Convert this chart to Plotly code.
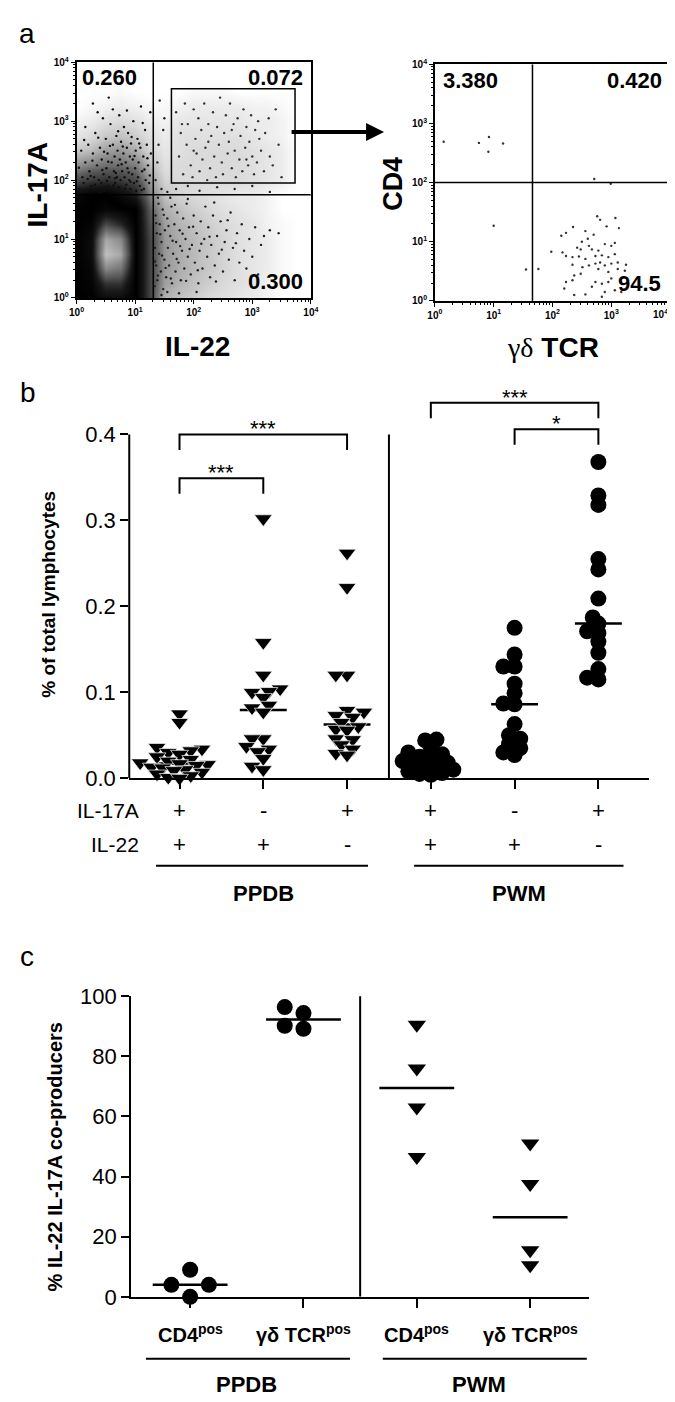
import numpy as np
import plotly.graph_objects as go

W, H = 675, 1402
FONT = "Liberation Sans, Arial, Helvetica, sans-serif"

# ======================= DATA =======================
# ---- Panel a, left plot: events as (log10 IL-22, log10 IL-17A)
ul_events = [(0.05,1.85),(0.10,2.05),(0.12,1.95),(0.15,2.30),(0.18,1.80),(0.20,2.60),(0.22,2.15),(0.25,1.90),
             (0.28,2.45),(0.30,2.05),(0.32,2.80),(0.33,1.85),(0.35,2.25),(0.38,2.00),(0.40,2.55),(0.42,1.95),
             (0.43,2.35),(0.45,3.05),(0.46,2.10),(0.48,1.82),(0.50,2.70),(0.51,2.20),(0.53,2.45),(0.55,1.90),
             (0.56,2.05),(0.58,2.95),(0.60,2.30),(0.61,1.85),(0.62,2.60),(0.64,2.15),(0.65,2.40),(0.66,1.95),
             (0.68,2.75),(0.69,2.05),(0.70,2.50),(0.71,2.25),(0.72,1.88),(0.73,3.10),(0.74,2.35),(0.75,2.00),
             (0.76,2.65),(0.78,2.15),(0.79,1.80),(0.80,2.45),(0.81,2.90),(0.82,2.05),(0.84,2.30),(0.85,1.92),
             (0.86,2.55),(0.87,2.20),(0.88,2.80),(0.90,2.00),(0.91,2.40),(0.92,1.85),(0.93,2.62),(0.95,2.10),
             (0.96,2.35),(0.97,3.00),(0.98,1.95),(1.00,2.20),(1.01,2.50),(1.02,1.82),(1.04,2.70),(1.05,2.05),
             (1.06,2.30),(1.08,1.90),(1.09,2.55),(1.10,3.25),(1.12,2.15),(1.14,2.40),(1.15,1.85),(1.17,2.85),
             (1.18,2.00),(1.20,2.60),(1.22,2.25),(1.24,1.95),(1.26,3.15),(1.27,2.45),(0.28,3.30),(0.62,3.20),
             (0.08,2.50),(0.15,2.90),(0.36,3.15),(0.55,3.40),
             (0.04,2.21),(0.13,2.68),(0.24,2.07),(0.27,2.33),(0.37,2.72),(0.41,1.79),(0.47,2.48),(0.52,1.99),
             (0.57,2.58),(0.63,1.91),(0.67,2.12),(0.71,2.83),(0.77,2.27),(0.83,1.86),(0.89,2.13),(0.94,2.73),
             (0.99,2.41),(1.03,1.98),(1.07,2.62),(1.11,1.83),(1.16,2.18),(1.21,2.37),(1.25,2.08),(0.19,2.02),
             (0.31,1.92),(0.44,2.17),(0.54,2.31),(0.66,2.03),(0.79,2.57),(0.92,1.97),(1.13,2.97),(0.86,3.18)]
ur_events = [(1.35,2.00),(1.40,2.60),(1.45,1.85),(1.50,3.05),(1.38,2.30),(1.55,1.80),(1.70,1.85),(1.90,1.90),
             (2.10,1.82),(2.40,1.88),(2.70,1.85),(3.00,1.90),(3.30,1.80),(1.48,2.85),(1.42,3.35)]
gate_events = [(1.70,3.15),(1.75,2.40),(1.78,2.80),(1.82,2.10),(1.85,3.30),(1.88,2.60),(1.90,2.95),(1.95,2.25),
               (1.98,2.05),(2.00,3.20),(2.03,2.70),(2.05,2.45),(2.08,3.05),(2.10,2.15),(2.13,2.85),(2.15,2.35),
               (2.18,3.30),(2.20,2.55),(2.23,2.00),(2.25,2.95),(2.28,2.20),(2.30,2.75),(2.33,3.15),(2.35,2.40),
               (2.38,2.05),(2.40,2.90),(2.43,2.60),(2.45,3.40),(2.48,2.30),(2.50,2.10),(2.52,2.80),(2.55,3.10),
               (2.58,2.45),(2.60,2.65),(2.62,3.30),(2.65,2.20),(2.68,2.95),(2.70,2.50),(2.72,2.05),(2.75,3.05),
               (2.78,2.35),(2.80,2.75),(2.83,2.15),(2.85,3.20),(2.88,2.55),(2.90,2.90),(2.93,2.25),(2.95,2.65),
               (2.98,3.10),(3.00,2.40),(3.03,2.10),(3.05,2.85),(3.08,2.30),(3.10,3.00),(3.15,2.50),(3.20,2.15),
               (3.22,2.80),(3.28,3.05),(3.30,2.40),(3.35,2.25),(3.40,3.20),(3.45,2.60),(3.50,2.05),(2.00,2.50),
               (1.80,2.95),(2.25,2.65),(2.65,2.85),(2.90,2.35),(3.12,2.70)]
lr_events = [(1.33,0.20),(1.34,0.85),(1.35,1.40),(1.36,0.55),(1.37,1.10),(1.38,0.30),(1.40,1.60),(1.41,0.75),
             (1.42,1.25),(1.44,0.45),(1.45,0.95),(1.47,1.50),(1.48,0.15),(1.50,0.65),(1.51,1.15),(1.53,0.35),
             (1.55,1.35),(1.56,0.85),(1.58,0.55),(1.60,1.05),(1.62,1.55),(1.63,0.25),(1.65,0.75),(1.67,1.25),
             (1.69,0.45),(1.70,0.95),(1.72,1.45),(1.74,0.60),(1.76,1.15),(1.78,0.30),(1.80,0.80),(1.82,1.35),
             (1.84,0.50),(1.86,1.00),(1.88,1.60),(1.90,0.70),(1.92,1.20),(1.95,0.40),(1.97,0.90),(2.00,1.40),
             (2.02,0.60),(2.05,1.10),(2.08,0.25),(2.10,0.80),(2.12,1.30),(2.15,0.50),(2.18,1.00),(2.20,1.55),
             (2.23,0.70),(2.25,1.20),(2.28,0.35),(2.30,0.90),(2.33,1.40),(2.36,0.55),(2.40,1.05),(2.43,0.75),
             (2.46,1.30),(2.50,0.45),(2.53,0.95),(2.56,1.15),(2.60,0.65),(2.63,1.45),(2.67,0.85),(2.70,0.30),
             (2.74,1.10),(2.78,0.60),(2.82,1.25),(2.86,0.80),(2.90,0.50),(2.95,1.00),(3.00,0.70),(3.05,1.20),
             (3.10,0.40),(3.15,0.90),(3.20,1.05),(3.30,1.15),(3.45,1.10),(1.45,0.05),(1.75,0.08),(2.05,0.10),
             (1.60,1.70),(1.90,1.68),(2.35,1.62),(1.39,1.70),(1.55,0.10),
             (1.34,0.62),(1.36,1.27),(1.39,0.38),(1.43,1.08),(1.46,0.72),(1.49,1.41),(1.52,0.51),(1.57,1.22),
             (1.61,0.33),(1.64,0.97),(1.68,1.58),(1.71,0.66),(1.77,0.88),(1.81,1.09),(1.87,0.29),(1.93,0.83),
             (1.99,1.21),(2.07,0.47),(2.13,0.92),(2.27,1.04),(2.38,0.28),(2.48,0.82),(2.58,1.32),(2.72,0.93)]
# background density of the dot cloud (grey level estimated on a 0.25-decade grid, rows = IL-17A)
grid_il22 = [0.0, 0.25, 0.5, 0.75, 1.0, 1.25, 1.5, 1.75, 2.0, 2.25, 2.5, 2.75, 3.0, 3.25, 3.5, 3.75, 4.0]
grid_il17 = [0.0, 0.25, 0.5, 0.75, 1.0, 1.25, 1.5, 1.75, 2.0, 2.25, 2.5, 2.75, 3.0, 3.25, 3.5, 3.75, 4.0]
grid_density = [
    [5.0, 5.0, 5.5, 5.5, 5.0, 3.0, 1.2, 1.0, 0.8, 0.6, 0.5, 0.4, 0.3, 0.2, 0.0, 0.0, 0.0],
    [5.0, 5.2, 6.5, 6.5, 5.0, 3.0, 1.5, 1.2, 1.0, 0.8, 0.6, 0.5, 0.4, 0.2, 0.1, 0.0, 0.0],
    [5.0, 5.3, 8.5, 8.0, 5.0, 3.0, 1.6, 1.3, 1.1, 0.9, 0.7, 0.5, 0.4, 0.3, 0.1, 0.0, 0.0],
    [5.0, 5.5, 9.8, 9.2, 5.0, 3.0, 1.6, 1.3, 1.1, 0.9, 0.7, 0.5, 0.4, 0.3, 0.1, 0.0, 0.0],
    [5.0, 5.5, 9.2, 8.5, 5.0, 3.0, 1.6, 1.3, 1.1, 0.9, 0.7, 0.5, 0.4, 0.3, 0.1, 0.0, 0.0],
    [5.0, 5.2, 7.0, 6.3, 5.0, 2.8, 1.5, 1.2, 1.0, 0.8, 0.6, 0.5, 0.4, 0.2, 0.1, 0.0, 0.0],
    [5.0, 5.0, 5.3, 5.1, 5.0, 2.5, 1.3, 1.0, 0.8, 0.6, 0.5, 0.4, 0.3, 0.2, 0.0, 0.0, 0.0],
    [4.6, 5.0, 5.0, 4.6, 3.9, 2.0, 1.0, 0.7, 0.6, 0.5, 0.4, 0.3, 0.3, 0.2, 0.0, 0.0, 0.0],
    [2.8, 3.2, 3.4, 3.2, 2.8, 1.6, 0.7, 0.6, 0.6, 0.6, 0.6, 0.6, 0.5, 0.4, 0.3, 0.0, 0.0],
    [1.7, 2.0, 2.2, 2.2, 2.0, 1.1, 0.5, 0.6, 0.6, 0.6, 0.6, 0.6, 0.5, 0.4, 0.3, 0.0, 0.0],
    [0.9, 1.1, 1.5, 1.6, 1.3, 0.7, 0.4, 0.5, 0.6, 0.6, 0.6, 0.6, 0.5, 0.4, 0.3, 0.0, 0.0],
    [0.4, 0.6, 0.9, 1.0, 0.8, 0.5, 0.3, 0.5, 0.5, 0.5, 0.5, 0.5, 0.4, 0.3, 0.2, 0.0, 0.0],
    [0.2, 0.3, 0.5, 0.6, 0.5, 0.3, 0.2, 0.4, 0.4, 0.4, 0.4, 0.4, 0.3, 0.3, 0.2, 0.0, 0.0],
    [0.0, 0.1, 0.2, 0.3, 0.2, 0.1, 0.1, 0.2, 0.3, 0.3, 0.3, 0.3, 0.2, 0.2, 0.1, 0.0, 0.0],
    [0.0, 0.0, 0.0, 0.1, 0.0, 0.0, 0.0, 0.0, 0.1, 0.1, 0.1, 0.0, 0.0, 0.0, 0.0, 0.0, 0.0],
    [0.0] * 17,
    [0.0] * 17,
]
left_quadrant_gate = (1.31, 1.75)            # IL-22, IL-17A thresholds (log10)
left_box_gate = (1.62, 3.73, 1.95, 3.55)     # x0, x1, y0, y1 (log10)
left_quadrant_pct = ["0.260", "0.072", "0.300"]

# ---- Panel a, right plot: (log10 gd TCR, log10 CD4)
gd_events = [(2.15,1.10),(2.35,1.25),(2.23,1.15),(2.56,1.18),(2.76,1.43),(2.81,1.37),(2.92,1.26),(3.07,1.40),
             (3.13,1.23),(2.42,0.90),(2.48,0.87),(2.62,0.93),(2.67,0.87),(2.78,0.85),(2.89,0.96),(3.00,0.93),
             (3.06,0.98),(2.17,0.82),(1.98,0.83),(2.23,0.76),(2.34,0.74),(2.45,0.75),(2.56,0.71),(2.73,0.76),
             (2.84,0.77),(2.95,0.74),(3.06,0.79),(2.62,0.60),(2.73,0.63),(2.81,0.65),(2.89,0.60),(3.00,0.63),
             (3.11,0.65),(3.25,0.61),(2.34,0.61),(2.51,0.57),(2.37,0.43),(2.48,0.46),(2.78,0.54),(2.95,0.49),
             (3.11,0.54),(3.23,0.51),(1.76,0.54),(2.23,0.32),(2.34,0.35),(2.73,0.32),(2.84,0.29),(2.95,0.32),
             (2.20,0.21),(2.67,0.24),(2.89,0.15),(3.06,0.18),(3.00,0.38),(3.17,0.15),(2.37,0.10),(2.56,0.11),
             (2.84,0.07),(2.60,1.05),(2.70,1.12),(2.50,1.00),
             (0.15,2.69),(0.75,2.67),(0.92,2.77),(0.91,2.52),(1.16,2.66),(1.00,1.27),(1.55,0.53),
             (2.71,2.06),(2.99,1.98)]
right_quadrant_gate = (1.66, 2.0)
right_quadrant_pct = ["3.380", "0.420", "94.5"]

# ---- Panel b: % of total lymphocytes
b_groups = ["PPDB IL-17A+IL-22+", "PPDB IL-17A-IL-22+", "PPDB IL-17A+IL-22-",
            "PWM IL-17A+IL-22+", "PWM IL-17A-IL-22+", "PWM IL-17A+IL-22-"]
il17a_signs = ["+", "-", "+", "+", "-", "+"]
il22_signs = ["+", "+", "-", "+", "+", "-"]
ppdb_dp = [0.075, 0.065, 0.036, 0.034, 0.032, 0.030, 0.028, 0.025, 0.022, 0.020, 0.018, 0.017,
           0.016, 0.015, 0.013, 0.012, 0.010, 0.009, 0.007, 0.005, 0.003, 0.001, 0.000]
ppdb_sp = [0.302, 0.158, 0.120, 0.104, 0.101, 0.100, 0.094, 0.085, 0.082, 0.077, 0.046, 0.046,
           0.037, 0.034, 0.031, 0.023, 0.014, 0.010]
ppdb_ms = [0.262, 0.222, 0.120, 0.120, 0.079, 0.077, 0.073, 0.071, 0.065, 0.060, 0.057, 0.056,
           0.046, 0.045, 0.039, 0.034, 0.029, 0.027]
pwm_dp = [0.045, 0.044, 0.035, 0.030, 0.028, 0.025, 0.022, 0.020, 0.018, 0.016, 0.014, 0.012,
          0.010, 0.008, 0.006, 0.005, 0.004]
pwm_sp = [0.175, 0.144, 0.130, 0.130, 0.110, 0.099, 0.087, 0.086, 0.063, 0.050, 0.046, 0.040,
          0.035, 0.030, 0.027]
pwm_ms = [0.368, 0.329, 0.318, 0.255, 0.243, 0.209, 0.187, 0.180, 0.171, 0.169, 0.159, 0.146,
          0.127, 0.117, 0.115]
b_values = [ppdb_dp, ppdb_sp, ppdb_ms, pwm_dp, pwm_sp, pwm_ms]
b_symbols = ["triangle-down"] * 3 + ["circle"] * 3
b_ticks = [0.0, 0.1, 0.2, 0.3, 0.4]
# significance brackets: (from group, to group, level, label)
b_sig = [(0, 2, 0.400, "***"), (0, 1, 0.349, "***"), (3, 5, 0.437, "***"), (4, 5, 0.406, "*")]

# ---- Panel c: % IL-22 IL-17A co-producers
c_labels = ["CD4<sup>pos</sup>", "γδ TCR<sup>pos</sup>", "CD4<sup>pos</sup>", "γδ TCR<sup>pos</sup>"]
c_ppdb_cd4 = [9.0, 4.0, 4.0, 0.0]
c_ppdb_gd = [96.4, 94.4, 90.2, 89.2]
c_pwm_cd4 = [90.5, 76.0, 63.0, 46.5]
c_pwm_gd = [51.0, 37.5, 15.5, 10.5]
c_values = [c_ppdb_cd4, c_ppdb_gd, c_pwm_cd4, c_pwm_gd]
c_symbols = ["circle", "circle", "triangle-down", "triangle-down"]
c_ticks = [0, 20, 40, 60, 80, 100]
stimuli = ["PPDB", "PWM"]

# ======================= LAYOUT GEOMETRY =======================
def px(x):
    return x / W

def py(y):
    return 1 - y / H

DOM = {
    "flowL": ((62, 302), (43, 283)),
    "flowR": ((429, 670), (45, 286)),
    "b": ((116, 648), (369.5, 772)),
    "c": ((118, 587), (994, 1300)),
}
B_XR = [-0.6, 5.6]
B_YR = [0.0, 0.46]
C_XR = [-0.52, 3.52]
C_YR = [0.0, 100.0]


def dom(key):
    (x0, x1), (y0, y1) = DOM[key]
    return [px(x0), px(x1)], [py(y1), py(y0)]


def swarm(vals, xs, ys, step, thresh):
    vals = np.asarray(vals, float)
    order = np.argsort(vals, kind="stable")
    cands = [0]
    for j in range(1, 40):
        cands += [-j, j]
    placed, offs = [], np.zeros(len(vals))
    for i in order:
        yp = vals[i] * ys
        xp = 0.0
        for c in cands:
            xp = c * step
            if all((xp - a) ** 2 + (yp - b) ** 2 >= thresh ** 2 for a, b in placed):
                break
        placed.append((xp, yp))
        offs[i] = xp / xs
    return offs


fig = go.Figure()

# ---------- panel a left ----------
fig.add_trace(go.Heatmap(x=grid_il22, y=grid_il17, z=grid_density, zsmooth="best", zmin=0, zmax=10,
                         showscale=False, hoverinfo="skip", xaxis="x", yaxis="y",
                         colorscale=[[0, "#ffffff"], [0.04, "#e6e6e6"], [0.1, "#c2c2c2"], [0.25, "#5a5a5a"],
                                     [0.4, "#161616"], [0.5, "#000000"], [0.6, "#1a1a1a"], [0.72, "#555555"],
                                     [0.86, "#8e8e8e"], [1.0, "#cacaca"]]))
for pts, col in [(ul_events, "#111"), (ur_events, "#222"), (gate_events, "#333"), (lr_events, "#222")]:
    xs_, ys_ = zip(*pts)
    fig.add_trace(go.Scatter(x=xs_, y=ys_, mode="markers", xaxis="x", yaxis="y", hoverinfo="skip",
                             marker=dict(size=2.4, color=col, line=dict(width=0))))
# ---------- panel a right ----------
xs_, ys_ = zip(*gd_events)
fig.add_trace(go.Scatter(x=xs_, y=ys_, mode="markers", xaxis="x2", yaxis="y2", hoverinfo="skip",
                         marker=dict(size=2.4, color="#333", line=dict(width=0))))

# ---------- panel b ----------
bx_s = (DOM["b"][0][1] - DOM["b"][0][0]) / (B_XR[1] - B_XR[0])
by_s = (DOM["b"][1][1] - DOM["b"][1][0]) / (B_YR[1] - B_YR[0])
for i, (vals, sym) in enumerate(zip(b_values, b_symbols)):
    med = float(np.median(vals))
    fig.add_trace(go.Scatter(x=[i - 0.28, i + 0.28], y=[med, med], mode="lines", xaxis="x3", yaxis="y3",
                             line=dict(color="black", width=2.5), hoverinfo="skip"))
    d = 16.0
    offs = swarm(vals, bx_s, by_s, step=0.36 * d, thresh=0.5 * d)
    fig.add_trace(go.Scatter(x=i + offs, y=vals, mode="markers", xaxis="x3", yaxis="y3", cliponaxis=False,
                             hoverinfo="skip",
                             marker=dict(symbol=sym, size=15.5 if sym != "circle" else 16, color="black",
                                         line=dict(color="white", width=0.7 if sym != "circle" else 0))))

# ---------- panel c ----------
cx_s = (DOM["c"][0][1] - DOM["c"][0][0]) / (C_XR[1] - C_XR[0])
cy_s = (DOM["c"][1][1] - DOM["c"][1][0]) / (C_YR[1] - C_YR[0])
for i, (vals, sym) in enumerate(zip(c_values, c_symbols)):
    med = float(np.median(vals))
    fig.add_trace(go.Scatter(x=[i - 0.33, i + 0.33], y=[med, med], mode="lines", xaxis="x4", yaxis="y4",
                             line=dict(color="black", width=2.5), hoverinfo="skip"))
    d = 16.0
    offs = swarm(vals, cx_s, cy_s, step=1.2 * d, thresh=0.95 * d)
    fig.add_trace(go.Scatter(x=i + offs, y=vals, mode="markers", xaxis="x4", yaxis="y4", cliponaxis=False,
                             hoverinfo="skip",
                             marker=dict(symbol=sym, size=16 if sym != "circle" else 16, color="black",
                                         line=dict(width=0))))

# ---------- axes ----------
decades = [0, 1, 2, 3, 4]
dec_text = ["<b>10<sup>%d</sup></b>" % k for k in decades]
minor_vals = [float(np.log10(m)) + k for k in range(4) for m in range(2, 10)]


def flow_ax(ticktext):
    return dict(range=[0, 4], showline=True, mirror=True, linecolor="black", linewidth=1.5,
                ticks="outside", ticklen=4, tickwidth=1.2, tickcolor="black",
                tickmode="array", tickvals=decades, ticktext=ticktext,
                tickfont=dict(size=10, family=FONT, color="black"),
                minor=dict(tickmode="array", tickvals=minor_vals, ticks="outside", ticklen=2,
                           tickwidth=0.8, tickcolor="black", showgrid=False),
                showgrid=False, zeroline=False, fixedrange=True)


xd, yd = dom("flowL")
fig.update_layout(xaxis=dict(domain=xd, anchor="y", **flow_ax(dec_text)),
                  yaxis=dict(domain=yd, anchor="x", **flow_ax(dec_text)))
xd, yd = dom("flowR")
fig.update_layout(xaxis2=dict(domain=xd, anchor="y2", **flow_ax(dec_text[:-1] + [""])),
                  yaxis2=dict(domain=yd, anchor="x2", **flow_ax(dec_text)))

xd, yd = dom("b")
fig.update_layout(
    xaxis3=dict(domain=xd, anchor="y3", range=B_XR, showline=True, linecolor="black", linewidth=2,
                ticks="outside", ticklen=9, tickwidth=2, tickcolor="black", tickvals=list(range(6)),
                showticklabels=False, showgrid=False, zeroline=False),
    yaxis3=dict(domain=yd, anchor="x3", range=B_YR, showline=False, ticks="outside", ticklen=8, tickwidth=2,
                tickcolor="black", tickvals=b_ticks, tickformat=".1f",
                tickfont=dict(size=22, family=FONT, color="black"), showgrid=False, zeroline=False),
)
xd, yd = dom("c")
fig.update_layout(
    xaxis4=dict(domain=xd, anchor="y4", range=C_XR, showline=True, linecolor="black", linewidth=2,
                ticks="outside", ticklen=9, tickwidth=2, tickcolor="black", tickvals=list(range(4)),
                showticklabels=False, showgrid=False, zeroline=False),
    yaxis4=dict(domain=yd, anchor="x4", range=C_YR, showline=True, linecolor="black", linewidth=2,
                ticks="outside", ticklen=8, tickwidth=2, tickcolor="black", tickvals=c_ticks,
                tickfont=dict(size=22, family=FONT, color="black"), showgrid=False, zeroline=False),
)

# ---------- shapes ----------
shapes = []
L = dict(color="black", width=1.5)
qx, qy = left_quadrant_gate
shapes += [dict(type="line", xref="x", yref="y", x0=qx, x1=qx, y0=0, y1=4, line=L),
           dict(type="line", xref="x", yref="y", x0=0, x1=4, y0=qy, y1=qy, line=L)]
bx0, bx1, by0, by1 = left_box_gate
shapes.append(dict(type="rect", xref="x", yref="y", x0=bx0, x1=bx1, y0=by0, y1=by1, line=L))
qx, qy = right_quadrant_gate
shapes += [dict(type="line", xref="x2", yref="y2", x0=qx, x1=qx, y0=0, y1=4, line=L),
           dict(type="line", xref="x2", yref="y2", x0=0, x1=4, y0=qy, y1=qy, line=L)]
# panel b y axis line and divider
shapes.append(dict(type="line", xref="x3 domain", yref="y3", x0=0, x1=0, y0=0, y1=b_ticks[-1],
                   line=dict(color="black", width=2)))
shapes.append(dict(type="line", xref="x3", yref="y3", x0=2.5, x1=2.5, y0=0, y1=b_ticks[-1],
                   line=dict(color="black", width=2)))
for g0, g1, lvl, lab in b_sig:
    leg = 0.018
    shapes.append(dict(type="path", xref="x3", yref="y3",
                       path=f"M{g0},{lvl - leg} L{g0},{lvl} L{g1},{lvl} L{g1},{lvl - leg}",
                       line=dict(color="black", width=2)))
# panel c divider
shapes.append(dict(type="line", xref="x4", yref="y4", x0=1.5, x1=1.5, y0=0, y1=101,
                   line=dict(color="black", width=2)))
# group underlines
shapes += [dict(type="line", xref="x3", yref="paper", x0=-0.28, x1=2.25, y0=py(861), y1=py(861),
                line=dict(color="black", width=2)),
           dict(type="line", xref="x3", yref="paper", x0=2.8, x1=5.3, y0=py(861), y1=py(861),
                line=dict(color="black", width=2)),
           dict(type="line", xref="x4", yref="paper", x0=-0.39, x1=1.41, y0=py(1363), y1=py(1363),
                line=dict(color="black", width=2)),
           dict(type="line", xref="x4", yref="paper", x0=1.7, x1=3.5, y0=py(1363), y1=py(1363),
                line=dict(color="black", width=2))]

# ---------- annotations ----------
ann = []


def txt(text, x, y, size, xref="paper", yref="paper", xanchor="center", yanchor="middle", angle=0, bold=False):
    ann.append(dict(text=("<b>%s</b>" % text) if bold else text, x=x, y=y, xref=xref, yref=yref,
                    xanchor=xanchor, yanchor=yanchor, textangle=angle, showarrow=False,
                    font=dict(family=FONT, size=size, color="black")))


txt("a", px(11), py(14), 28)
txt("b", px(12), py(379), 28)
txt("c", px(11), py(953), 28)
# flow quadrant values
txt(left_quadrant_pct[0], px(66), py(59), 22, xanchor="left", bold=True)
txt(left_quadrant_pct[1], px(296), py(59), 22, xanchor="right", bold=True)
txt(left_quadrant_pct[2], px(296), py(266), 22, xanchor="right", bold=True)
txt(right_quadrant_pct[0], px(435), py(62), 22, xanchor="left", bold=True)
txt(right_quadrant_pct[1], px(664), py(62), 22, xanchor="right", bold=True)
txt(right_quadrant_pct[2], px(663), py(268), 22, xanchor="right", bold=True)
# last decade label of the right plot, pulled inside the page
txt(dec_text[-1], 4, py(291), 10, xref="x2", xanchor="right", yanchor="top")
# flow axis titles
txt("IL-17A", px(22), py(167), 28, angle=-90, bold=True)
txt("IL-22", px(186), py(332), 28, bold=True)
txt("CD4", px(386), py(167), 27, angle=-90, bold=True)
txt("<span style='font-family:Liberation Serif;font-weight:normal'>γδ</span> TCR", px(550), py(333), 28,
    bold=True)
# arrow between the flow plots
ann.append(dict(x=px(377), y=py(114), xref="paper", yref="paper", ax=-94, ay=0, text="", showarrow=True,
                arrowhead=2, arrowsize=0.9, arrowwidth=4, arrowcolor="black"))
# panel b texts
txt("% of total lymphocytes", px(33), py(585), 19, angle=-90, bold=True)
txt("IL-17A", px(128), py(805), 21, xanchor="right")
txt("IL-22", px(128), py(839), 21, xanchor="right")
for i, (s1, s2) in enumerate(zip(il17a_signs, il22_signs)):
    txt(s1, i, py(805), 22, xref="x3")
    txt(s2, i, py(839), 22, xref="x3")
txt(stimuli[0], 1.0, py(889), 22, xref="x3", bold=True)
txt(stimuli[1], 4.05, py(889), 22, xref="x3", bold=True)
for g0, g1, lvl, lab in b_sig:
    txt(lab, (g0 + g1) / 2, lvl, 22, xref="x3", yref="y3", yanchor="bottom")
    ann[-1]["yshift"] = -9
# panel c texts
txt("% IL-22 IL-17A co-producers", px(40), py(1158), 20, angle=-90, bold=True)
for i, lab in enumerate(c_labels):
    txt(lab, i, py(1337), 20, xref="x4", bold=True)
txt(stimuli[0], 0.5, py(1389), 22, xref="x4", bold=True)
txt(stimuli[1], 2.55, py(1389), 22, xref="x4", bold=True)

fig.update_layout(width=W, height=H, margin=dict(l=0, r=0, t=0, b=0), autosize=False,
                  paper_bgcolor="white", plot_bgcolor="white", showlegend=False,
                  shapes=shapes, annotations=ann, font=dict(family=FONT, color="black"))
fig.write_html("out.html")
